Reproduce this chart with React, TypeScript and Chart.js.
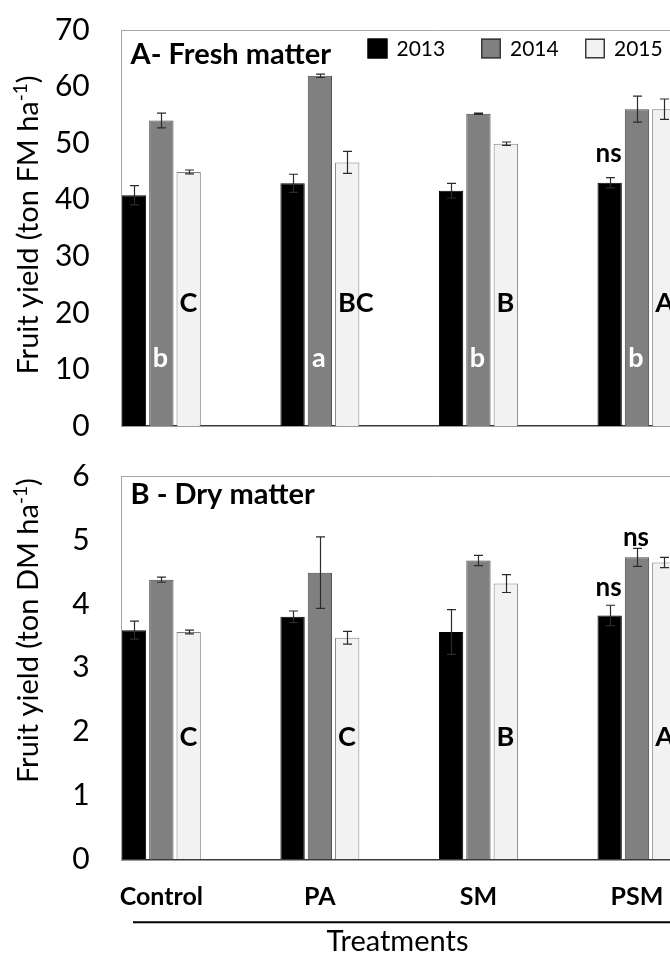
import React, { useEffect, useRef } from 'react';
import { Chart, registerables } from 'chart.js';

Chart.register(...registerables);

// ---------- data ----------
const categories = ['Control', 'PA', 'SM', 'PSM'];
const years = ['2013', '2014', '2015'];

const fresh2013 = [40.8, 42.9, 41.6, 43.0];
const fresh2014 = [54.0, 61.9, 55.2, 56.0];
const fresh2015 = [44.9, 46.6, 49.9, 56.0];
const freshErr2013 = [1.7, 1.6, 1.3, 0.9];
const freshErr2014 = [1.3, 0.3, 0.1, 2.3];
const freshErr2015 = [0.35, 1.95, 0.3, 1.8];

const dry2013 = [3.59, 3.80, 3.56, 3.82];
const dry2014 = [4.38, 4.49, 4.68, 4.73];
const dry2015 = [3.56, 3.47, 4.32, 4.65];
const dryErr2013 = [0.14, 0.09, 0.35, 0.16];
const dryErr2014 = [0.04, 0.56, 0.08, 0.14];
const dryErr2015 = [0.03, 0.10, 0.14, 0.08];

const freshLetters2014 = ['b', 'a', 'b', 'b'];
const freshLetters2015 = ['C', 'BC', 'B', 'A'];
const dryLetters2015 = ['C', 'C', 'B', 'A'];
const freshNs2013 = ['', '', '', 'ns'];
const dryNs2013 = ['', '', '', 'ns'];
const dryNs2014 = ['', '', '', 'ns'];

const freshTicks = [0, 10, 20, 30, 40, 50, 60, 70];
const dryTicks = [0, 1, 2, 3, 4, 5, 6];

// ---------- styles ----------
const FONT = 'Lato, "Open Sans", "DejaVu Sans", sans-serif';
const fills = ['#000000', '#808080', '#f2f2f2'];
const borders = ['#000000', '#4a4a4a', '#7f7f7f'];

function buildDatasets(series: number[][]) {
  return series.map((vals, d) => ({
    label: years[d],
    data: vals.map((v, i) => ({ x: i, y: v })),
    backgroundColor: fills[d],
    borderColor: borders[d],
    borderWidth: 1,
    borderSkipped: 'bottom',
    categoryPercentage: 0.517,
    barPercentage: 0.89,
  }));
}

type Mark = { dataset: number; labels: string[]; value: number; color: string; size: number; align: 'center' | 'left' };

type Decor = {
  errors: number[][];
  title: string;
  titleBaseline: number;
  yTitle: string;
  yTitleAlign: 'center' | 'end';
  marks: Mark[];
  legend: boolean;
  xTitle: boolean;
};

function decorPlugin(cfg: Decor) {
  return {
    id: 'decor',
    beforeDatasetsDraw(chart: any) {
      const { ctx, chartArea: a } = chart;
      ctx.save();
      ctx.strokeStyle = '#a6a6a6';
      ctx.lineWidth = 1;
      ctx.beginPath();
      ctx.moveTo(a.left, Math.round(a.top) + 0.5);
      ctx.lineTo(Math.round(a.right) - 0.5, Math.round(a.top) + 0.5);
      ctx.lineTo(Math.round(a.right) - 0.5, a.bottom);
      ctx.stroke();
      ctx.restore();
    },
    afterDatasetsDraw(chart: any) {
      const ctx = chart.ctx;
      const ys = chart.scales.y;
      ctx.save();
      ctx.strokeStyle = '#2b2b2b';
      ctx.lineWidth = 1.2;
      cfg.errors.forEach((errs, d) => {
        const meta = chart.getDatasetMeta(d);
        meta.data.forEach((el: any, i: number) => {
          const v = chart.data.datasets[d].data[i].y;
          const e = errs[i];
          const x = Math.round(el.x) + 0.5;
          const y1 = ys.getPixelForValue(v + e);
          const y2 = ys.getPixelForValue(v - e);
          ctx.beginPath();
          ctx.moveTo(x, y1);
          ctx.lineTo(x, y2);
          ctx.moveTo(x - 4.5, y1);
          ctx.lineTo(x + 4.5, y1);
          ctx.moveTo(x - 4.5, y2);
          ctx.lineTo(x + 4.5, y2);
          ctx.stroke();
        });
      });
      ctx.restore();
    },
    afterDraw(chart: any) {
      const { ctx, chartArea: a } = chart;
      const ys = chart.scales.y;
      ctx.save();
      ctx.fillStyle = '#000';
      ctx.textBaseline = 'alphabetic';
      ctx.textAlign = 'left';
      ctx.font = `bold 29px ${FONT}`;
      ctx.fillText(cfg.title, 130.5, cfg.titleBaseline);

      // y-axis title with superscript
      const parts: [string, boolean][] = [[cfg.yTitle, false], ['-1', true], [')', false]];
      const mainFont = `29px ${FONT}`;
      const supFont = `19px ${FONT}`;
      let total = 0;
      parts.forEach(([t, sup]) => {
        ctx.font = sup ? supFont : mainFont;
        total += ctx.measureText(t).width;
      });
      ctx.save();
      const cy = cfg.yTitleAlign === 'center' ? (a.top + a.bottom) / 2 - 3 : a.top + 2;
      ctx.translate(29, cy);
      ctx.rotate(-Math.PI / 2);
      ctx.textBaseline = 'middle';
      let xx = cfg.yTitleAlign === 'center' ? -total / 2 : -total;
      parts.forEach(([t, sup]) => {
        ctx.font = sup ? supFont : mainFont;
        ctx.fillText(t, xx, sup ? -8 : 0);
        xx += ctx.measureText(t).width;
      });
      ctx.restore();

      // letters
      cfg.marks.forEach((m) => {
        const meta = chart.getDatasetMeta(m.dataset);
        ctx.font = `bold ${m.size}px ${FONT}`;
        ctx.fillStyle = m.color;
        ctx.textBaseline = 'alphabetic';
        meta.data.forEach((el: any, i: number) => {
          const t = m.labels[i];
          if (!t) return;
          const y = ys.getPixelForValue(m.value);
          if (m.align === 'left') {
            ctx.textAlign = 'left';
            ctx.fillText(t, el.x - el.width / 2 + 3, y);
          } else {
            ctx.textAlign = 'center';
            ctx.fillText(t, el.x - 1, y);
          }
        });
      });

      // legend
      if (cfg.legend) {
        const lx = [367.5, 481, 585];
        ctx.textAlign = 'left';
        ctx.textBaseline = 'middle';
        ctx.font = `21px ${FONT}`;
        years.forEach((yr, d) => {
          ctx.fillStyle = fills[d];
          ctx.fillRect(lx[d], 38.5, 20, 20);
          ctx.strokeStyle = d === 0 ? '#000' : '#3a3a3a';
          ctx.lineWidth = 1.5;
          ctx.strokeRect(lx[d] + 0.75, 39.25, 18.5, 18.5);
          ctx.fillStyle = '#000';
          ctx.fillText(yr, lx[d] + 29, 49.5);
        });
      }

      // x-axis title
      if (cfg.xTitle) {
        ctx.strokeStyle = '#000';
        ctx.lineWidth = 2;
        ctx.beginPath();
        ctx.moveTo(133, a.bottom + 63);
        ctx.lineTo(780, a.bottom + 63);
        ctx.stroke();
        ctx.fillStyle = '#000';
        ctx.textAlign = 'center';
        ctx.textBaseline = 'alphabetic';
        ctx.font = `29px ${FONT}`;
        ctx.fillText('Treatments', 397.5, a.bottom + 91.5);
      }
      ctx.restore();
    },
  };
}

const PX_PER_CAT = 158.55;
const LEFT = 121.7;
const CANVAS_W = 800;

function makeConfig(opts: {
  series: number[][];
  ticks: number[];
  max: number;
  padTop: number;
  xHeight: number;
  showX: boolean;
  decor: Decor;
}): any {
  const right = LEFT + PX_PER_CAT * 4;
  return {
    type: 'bar',
    data: { datasets: buildDatasets(opts.series) },
    plugins: [decorPlugin(opts.decor)],
    options: {
      animation: false,
      responsive: true,
      maintainAspectRatio: false,
      devicePixelRatio: 1,
      layout: { padding: { top: opts.padTop, left: 0, right: CANVAS_W - right, bottom: 0 } },
      plugins: { legend: { display: false }, tooltip: { enabled: false }, title: { display: false } },
      scales: {
        x: {
          type: 'linear',
          offset: false,
          min: -0.25,
          max: 3.75,
          afterBuildTicks: (s: any) => {
            s.ticks = categories.map((_, i) => ({ value: i }));
          },
          afterFit: (s: any) => {
            s.height = opts.xHeight;
            s.paddingLeft = 0;
            s.paddingRight = 0;
          },
          grid: { display: false, drawTicks: false },
          border: { display: true, color: '#3a3a3a', width: 1.5 },
          ticks: {
            display: opts.showX,
            autoSkip: false,
            maxRotation: 0,
            padding: 23,
            color: '#000',
            font: { family: FONT, size: 25, weight: 'bold' },
            callback: (_v: any, i: number) => categories[i],
          },
        },
        y: {
          min: 0,
          max: opts.max,
          afterBuildTicks: (s: any) => {
            s.ticks = opts.ticks.map((v) => ({ value: v }));
          },
          afterFit: (s: any) => {
            s.width = LEFT;
            s.paddingTop = 0;
            s.paddingBottom = 0;
          },
          grid: { display: false, drawTicks: false },
          border: { display: true, color: '#a6a6a6', width: 1 },
          ticks: {
            padding: 32,
            color: '#000',
            font: { family: FONT, size: 30, weight: 'normal' },
            callback: (v: any) => String(v),
          },
        },
      },
    },
  };
}

export default function App() {
  const topRef = useRef<HTMLCanvasElement | null>(null);
  const botRef = useRef<HTMLCanvasElement | null>(null);

  useEffect(() => {
    const top = new Chart(
      topRef.current as HTMLCanvasElement,
      makeConfig({
        series: [fresh2013, fresh2014, fresh2015],
        ticks: freshTicks,
        max: 70,
        padTop: 30,
        xHeight: 24,
        showX: false,
        decor: {
          errors: [freshErr2013, freshErr2014, freshErr2015],
          title: 'A- Fresh matter',
          titleBaseline: 64,
          yTitle: 'Fruit yield (ton FM ha',
          yTitleAlign: 'center',
          legend: true,
          xTitle: false,
          marks: [
            { dataset: 1, labels: freshLetters2014, value: 10.4, color: '#ffffff', size: 27, align: 'center' },
            { dataset: 2, labels: freshLetters2015, value: 20.1, color: '#000000', size: 27, align: 'left' },
            { dataset: 0, labels: freshNs2013, value: 46.7, color: '#000000', size: 26, align: 'center' },
          ],
        },
      })
    );
    const bot = new Chart(
      botRef.current as HTMLCanvasElement,
      makeConfig({
        series: [dry2013, dry2014, dry2015],
        ticks: dryTicks,
        max: 6,
        padTop: 26.3,
        xHeight: 93.7,
        showX: true,
        decor: {
          errors: [dryErr2013, dryErr2014, dryErr2015],
          title: 'B - Dry matter',
          titleBaseline: 54,
          yTitle: 'Fruit yield (ton DM ha',
          yTitleAlign: 'end',
          legend: false,
          xTitle: true,
          marks: [
            { dataset: 2, labels: dryLetters2015, value: 1.77, color: '#000000', size: 27, align: 'left' },
            { dataset: 0, labels: dryNs2013, value: 4.12, color: '#000000', size: 26, align: 'center' },
            { dataset: 1, labels: dryNs2014, value: 4.91, color: '#000000', size: 26, align: 'center' },
          ],
        },
      })
    );
    return () => {
      top.destroy();
      bot.destroy();
    };
  }, []);

  return (
    <div style={{ position: 'absolute', left: 0, top: 0, width: 670, height: 953, overflow: 'hidden', background: '#ffffff' }}>
      <div style={{ position: 'absolute', left: 0, top: 0, width: CANVAS_W, height: 450 }}>
        <canvas ref={topRef} />
      </div>
      <div style={{ position: 'absolute', left: 0, top: 450, width: CANVAS_W, height: 503 }}>
        <canvas ref={botRef} />
      </div>
    </div>
  );
}
